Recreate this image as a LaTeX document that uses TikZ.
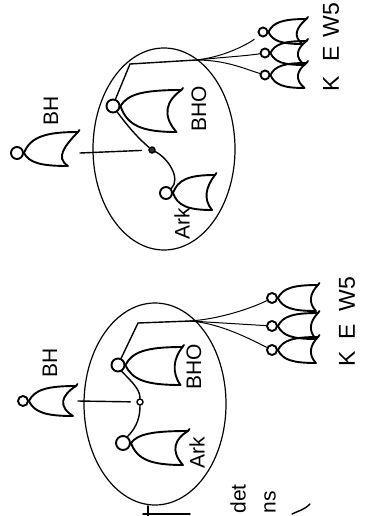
\documentclass[tikz,border=0pt]{standalone}
\usepackage{fontspec}
\setmainfont{Liberation Sans}
\usetikzlibrary{shapes.geometric}

\tikzset{
  figure/.style={line width=1.9pt, line join=round, line cap=round},
  headnode/.style={circle, draw, line width=1.9pt, inner sep=0pt, minimum size=#1},
  famring/.style={ellipse, draw, line width=1.2pt, inner sep=0pt, minimum width=142pt, minimum height=202pt},
  link/.style={line width=1.4pt, line cap=round},
  fan/.style={line width=1pt, line cap=round},
  dotfull/.style={circle, draw, fill=black!80, line width=1.4pt, inner sep=0pt, minimum size=6pt},
  dotopen/.style={circle, draw, line width=1.4pt, inner sep=0pt, minimum size=6pt},
  tag/.style={rotate=90, inner sep=0pt, font=\fontsize{21}{21}\selectfont},
  kidtag/.style={tag, font=\fontsize{23}{23}\selectfont},
  % person body: top length, bottom length, top half-width, bottom half-width, hem depth
  pics/gown/.style n args={5}{code={
    \draw[figure] (0,0)
      .. controls (0.12*#1,-0.75*#3) and (0.38*#1,-#3) .. (#1,-#3)
      .. controls (#1-#5,-0.35*#3) and (#2-#5,0.35*#4) .. (#2,#4)
      .. controls (0.38*#2,#4) and (0.12*#2,0.75*#4) .. cycle;
    \draw[figure] (#1,-#3) -- ++(1.5,-2);
    \coordinate (-hem) at ({max(#1,#2)+2},0);
  }}
}

\begin{document}
\begin{tikzpicture}[x=1pt,y=-1pt]
\useasboundingbox (0,0) rectangle (369,516);
\fill[white] (0,0) rectangle (369,516);
\clip (0,0) rectangle (369,516);

% ---------- upper family ----------
\node[famring] (ringT) at (164,149) {};

\node[headnode=12pt] (bhT) at (17,153) {};
\pic (bhTbody) at (bhT.east) {gown={54}{44}{21}{13}{13}};
\node[tag] (bhTlab) at (51,111) {BH};

\node[dotfull] (dotT) at (152,150) {};
\draw[link, shorten >=7pt] (bhTbody-hem) -- (dotT);

\node[headnode=13pt] (bhoT) at (113,106) {};
\pic (bhoTbody) at (bhoT.east) {gown={61}{56}{16}{26}{15}};
\node[tag] (bhoTlab) at (199,109) {BHO};

\node[headnode=12pt] (arkT) at (166,193) {};
\pic (arkTbody) at (arkT.east) {gown={42}{39}{18}{17}{9}};
\node[tag] (arkTlab) at (182,224) {Ark};

\draw[link] (bhoT.-55) .. controls +(12,16) and +(-14,-12) .. (dotT);
\draw[link] (dotT) .. controls +(16,8) and +(10,-10) .. (arkT.40);

\coordinate (cT) at (130,64);
\coordinate (jT) at (196,60);
\draw[link] (bhoT.70) -- (cT) -- (jT);

\node[headnode=9pt] (wT) at (263,32) {};
\node[headnode=9pt] (eT) at (265,53) {};
\node[headnode=9pt] (kT) at (265,75) {};
\pic (wTbody) at (wT.east) {gown={38}{34}{13}{12}{10}};
\pic (eTbody) at (eT.east) {gown={36}{34}{12}{12}{10}};
\pic (kTbody) at (kT.east) {gown={36}{34}{12}{13}{10}};
\node[kidtag] (wTlab) at (331,20) {W5};
\node[kidtag] (eTlab) at (331,54) {E};
\node[kidtag] (kTlab) at (331,84) {K};

\draw[fan, shorten >=6pt] (jT) .. controls +(30,-3) and +(-12,10) .. (wT);
\draw[fan] (jT) .. controls +(30,-3) and +(-20,3) .. (eT);
\draw[fan] (jT) .. controls +(30,0) and +(-20,-6) .. (kT);

% ---------- lower family ----------
\node[famring] (ringB) at (155,404) {};

\node[headnode=10pt] (bhB) at (23,401) {};
\pic (bhBbody) at (bhB.east) {gown={47}{44}{15}{15}{15}};
\node[tag] (bhBlab) at (50,363) {BH};

\node[dotopen] (dotB) at (140,402) {};
\draw[link, shorten >=6pt] (bhBbody-hem) -- (dotB);

\node[headnode=13pt] (bhoB) at (118,365) {};
\pic (bhoBbody) at (bhoB.east) {gown={57}{55}{18}{20}{9}};
\node[tag] (bhoBlab) at (194,367) {BHO};

\node[headnode=14pt] (arkB) at (123,443) {};
\pic (arkBbody) at (arkB.east) {gown={57}{52}{12}{22}{13}};
\node[tag] (arkBlab) at (197,453) {Ark};

\draw[link] (bhoB.-60) .. controls +(12,12) and +(0,-12) .. (dotB);
\draw[link] (dotB) .. controls +(0,14) and +(10,-10) .. (arkB.55);

\coordinate (cB) at (138,323);
\coordinate (jB) at (190,321);
\draw[link] (bhoB.65) -- (cB) -- (jB);

\node[headnode=10pt] (wB) at (272,298) {};
\node[headnode=10pt] (eB) at (272,326) {};
\node[headnode=10pt] (kB) at (272,350) {};
\pic (wBbody) at (wB.east) {gown={40}{38}{13}{13}{8}};
\pic (eBbody) at (eB.east) {gown={40}{38}{13}{13}{8}};
\pic (kBbody) at (kB.east) {gown={40}{38}{13}{13}{8}};
\node[kidtag] (wBlab) at (347,294) {W5};
\node[kidtag] (eBlab) at (347,332) {E};
\node[kidtag] (kBlab) at (347,359) {K};

\draw[fan] (jB) .. controls +(30,-2) and +(-20,10) .. (wB);
\draw[fan] (jB) -- (eB);
\draw[fan] (jB) .. controls +(30,2) and +(-20,-10) .. (kB);

% ---------- notes running off the lower edge ----------
\node[tag] (detLab) at (238,499) {det};
\node[tag] (nsLab) at (270,502) {ns};
\draw[link] (292,514) .. controls (298,511) and (304,510) .. (310,504);
\draw[link] (148,506) -- (148,516);
\draw[link] (143,514) -- (190,514);
\end{tikzpicture}
\end{document}
